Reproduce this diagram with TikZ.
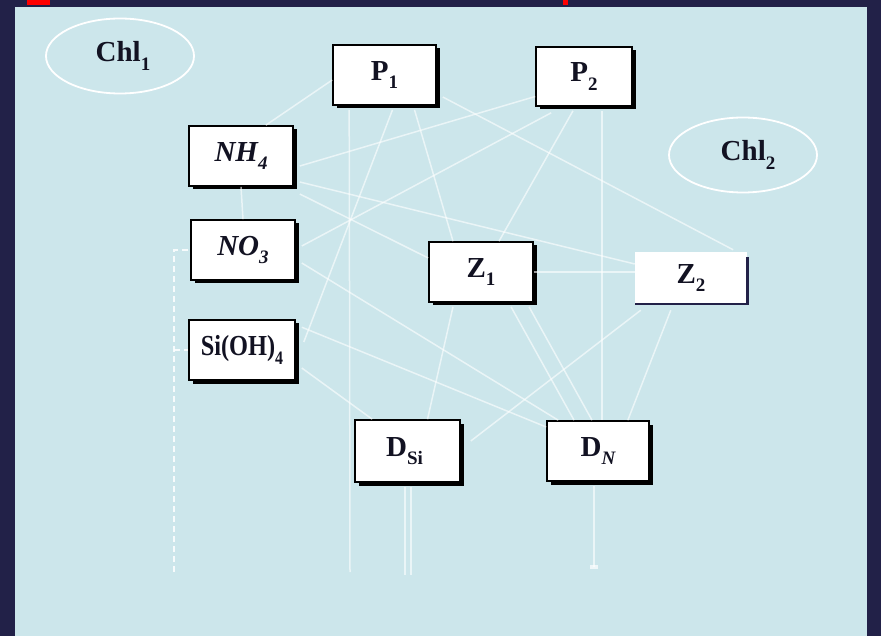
\documentclass[tikz,border=0pt]{standalone}
\usepackage{fontspec}
\usepackage{graphicx}
\setmainfont{Liberation Serif}
\usetikzlibrary{calc,shapes.geometric,shadows}
\definecolor{navy}{RGB}{34,33,72}
\definecolor{panel}{RGB}{204,230,235}
\definecolor{ink}{RGB}{18,18,34}
\newcommand{\lowsub}[1]{\raisebox{-0.3em}{\fontsize{19}{19}\selectfont #1}}
\tikzset{
  box/.style={draw=black, line width=1.6pt, fill=white, minimum height=60pt,
    inner sep=0pt, text=ink, font=\fontsize{29}{29}\selectfont\bfseries,
    drop shadow={shadow xshift=3.5pt, shadow yshift=-3.5pt, fill=black, opacity=1}},
  chl/.style={ellipse, draw=white, line width=1.8pt, minimum width=148pt,
    minimum height=75pt, inner sep=0pt, text=ink, font=\fontsize{29}{29}\selectfont\bfseries},
  flow/.style={draw=white, line width=1.5pt, opacity=0.6},
  loss/.style={draw=white, line width=1.2pt, dashed, dash pattern=on 6pt off 4pt, opacity=0.85}
}
\begin{document}
\begin{tikzpicture}[x=1pt,y=-1pt]
\useasboundingbox (0,0) rectangle (881,636);
\fill[navy] (0,0) rectangle (881,636);
\fill[panel] (15,7) rectangle (867,636);
\fill[red] (27,0) rectangle (50,5);
\fill[red] (563,0) rectangle (568,5);

% nodes
\node[chl] (chl1) at (120,56) {\hspace*{6pt}Chl\lowsub{1}};
\node[chl] (chl2) at (743,155) {\hspace*{10pt}Chl\lowsub{2}};
\node[box, minimum width=103pt] (P1) at (384.5,75) {P\lowsub{1}};
\node[box, minimum width=96pt, minimum height=59pt] (P2) at (584,76.5) {P\lowsub{2}};
\node[box, minimum width=104pt] (NH4) at (241,156) {\itshape NH\lowsub{4}};
\node[box, minimum width=104pt] (NO3) at (243,250) {\itshape NO\lowsub{3}};
\node[box, minimum width=106pt] (Si) at (242,350) {\scalebox{0.84}[1]{Si(OH)\lowsub{4}}};
\node[box, minimum width=104pt] (Z1) at (481,272) {Z\lowsub{1}};
\node[fill=white, minimum width=112pt, minimum height=52pt, inner sep=0pt,
  text=ink, font=\fontsize{29}{29}\selectfont\bfseries] (Z2) at (691,278) {Z\lowsub{2}};
\draw[navy, line width=2.6pt] ($(Z2.north east)+(0,5)$) -- (Z2.south east) -- (Z2.south west);
\node[box, minimum width=105pt, minimum height=62pt] (DSi) at (407.5,451) {D\lowsub{Si}\hspace*{6pt}};
\node[box, minimum width=102pt] (DN) at (598,451) {D\lowsub{\itshape N}};

% free ends
\coordinate (P1sink) at (350,572);
\coordinate (DNsink) at (594,567);
\coordinate (DSisinkA) at (405,575);
\coordinate (DSisinkB) at (411,575);
\coordinate (lossbot) at (174,572);
\coordinate (lossNO3) at (174,250);
\coordinate (lossSi) at (174,350);

% connectors
\draw[flow] ($(P1.west)+(0,5)$) -- ($(NH4.north east)+(-28,0)$);
\draw[flow] ($(NH4.east)+(6,10)$) -- ($(P2.west)+(0,20)$);
\draw[flow] ($(NO3.east)+(6,-4)$) -- ($(P2.south west)+(16,6)$);
\draw[flow] ($(Si.east)+(8,-8)$) -- ($(P1.south)+(8,4)$);
\draw[flow] ($(P1.south)+(30,4)$) -- ($(Z1.north)+(-28,0)$);
\draw[flow] ($(P1.east)+(6,22)$) -- ($(Z2.north east)+(-14,-2)$);
\draw[flow] ($(NH4.east)+(6,26)$) -- ($(Z2.west)+(0,-14)$);
\draw[flow] ($(P2.south)+(-11,4)$) -- ($(Z1.north)+(18,0)$);
\draw[flow] ($(NH4.east)+(6,38)$) -- ($(Z1.west)+(0,-14)$);
\draw[flow] ($(NO3.east)+(6,13)$) -- ($(DN.north west)+(12,0)$);
\draw[flow] ($(Si.north east)+(6,8)$) -- ($(DN.west)+(0,-24)$);
\draw[flow] ($(Si.east)+(6,18)$) -- ($(DSi.north west)+(18,0)$);
\draw[flow] ($(Z1.south)+(-28,4)$) -- ($(DSi.north)+(20,0)$);
\draw[flow] ($(Z1.south)+(30,4)$) -- ($(DN.north)+(-24,0)$);
\draw[flow] ($(Z1.south)+(48,4)$) -- ($(DN.north)+(-6,0)$);
\draw[flow] ($(Z2.south west)+(6,6)$) -- ($(DSi.east)+(10,-10)$);
\draw[flow] ($(Z2.south west)+(36,6)$) -- ($(DN.north east)+(-22,0)$);
\draw[flow] (NH4.south) -- (NO3.north);
\draw[flow] (Z1.east) -- (Z1.east -| Z2.west);
\draw[flow] ($(P1.south west)+(17,4)$) -- (P1sink);
\draw[flow] ($(P2.south)+(18,4)$) -- ($(DN.north)+(4,0)$);
\draw[flow] ($(DN.south)+(-4,4)$) -- (DNsink);
\fill[white, opacity=0.7] ($(DNsink)+(-4,-2)$) rectangle ($(DNsink)+(4,2)$);
\draw[flow] ($(DSi.south)+(-2.5,4)$) -- (DSisinkA);
\draw[flow] ($(DSi.south)+(3.5,4)$) -- (DSisinkB);
\draw[loss] (lossbot) -- (lossNO3) -- (NO3.west);
\draw[loss] (lossSi) -- (Si.west);
\end{tikzpicture}
\end{document}
